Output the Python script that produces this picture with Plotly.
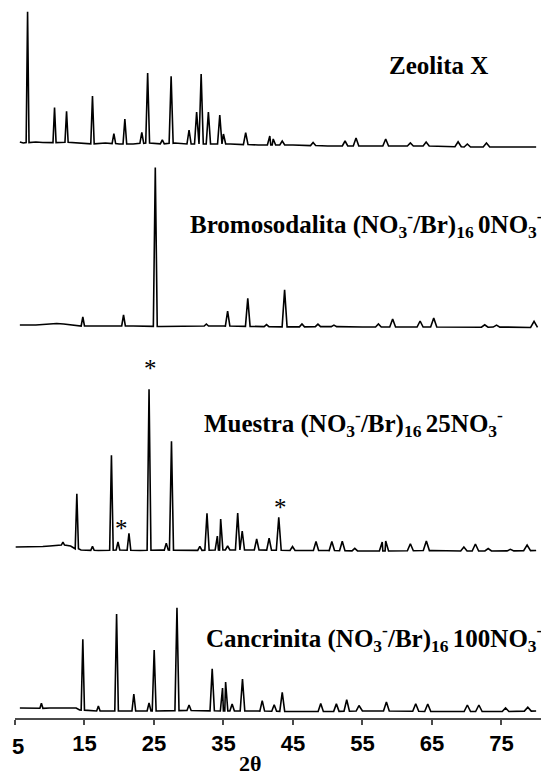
import numpy as np
import plotly.graph_objects as go

# ---------------- data (stacked intensity in a.u.) ----------------
tick_vals = [5, 15, 25, 35, 45, 55, 65, 75]
tick_text = ["", "15", "25", "35", "45", "55", "65", "75"]

# Zeolita X
zx_base_x = [5.7, 6.2, 8, 9, 10, 12, 14, 16, 18, 20, 22, 24, 26, 28, 30, 33, 36, 40, 45, 50, 55, 60, 65, 70, 75, 80]
zx_base_y = [576, 575, 576, 575.5, 575, 576, 575, 574, 575, 574, 574, 575, 574, 575, 574, 574, 574, 573, 573, 572, 572, 572, 572, 571, 571, 571]
zx_peak_x = [6.81, 10.69, 12.42, 16.15, 19.23, 20.81, 23.25, 24.09, 26.2, 27.47, 30.05, 31.14, 31.79, 32.83,
             34.47, 35.0, 38.2, 41.67, 42.16, 43.46, 47.9, 52.5, 54.08, 58.35, 61.9, 64.17, 68.77, 70.1, 72.85]
zx_peak_h = [131, 35, 31, 48, 10, 25, 11, 70, 4, 67, 14, 32, 70, 32, 29, 10, 12, 9, 6, 4, 3, 5, 8, 7, 3, 4, 5, 3, 4]

# Bromosodalita (NO3-/Br)16 0NO3-
bs_base_x = [5.7, 8, 10, 11, 12, 13, 14, 18, 22, 26, 30, 35, 40, 45, 50, 55, 60, 65, 70, 75, 80]
bs_base_y = [393, 393, 394, 394.5, 394, 393, 392, 392, 392, 391.5, 392, 392, 391.5, 391, 391.5, 391, 391, 391, 390.5, 391, 390.5]
bs_peak_x = [14.76, 20.62, 25.19, 32.54, 35.6, 38.5, 41.2, 43.8, 46.3, 48.6, 50.9, 57.3, 59.35, 63.3, 65.26, 72.6, 74.3, 79.7]
bs_peak_h = [9, 11, 159, 2, 15, 28, 2, 37, 3, 2.5, 1.5, 3, 8, 6, 9, 2.5, 2, 6]

# Muestra (NO3-/Br)16 25NO3-
mu_base_x = [5.1, 7, 9, 10, 11, 12, 13, 13.5, 14.5, 17, 20, 23, 26, 30, 35, 40, 45, 50, 55, 60, 65, 70, 75, 80]
mu_base_y = [171, 171, 171.5, 172, 172.5, 173, 172, 170, 168, 167.5, 168, 167.5, 168, 167.5, 168, 168, 167.5, 167.5, 167, 167, 167.5, 167, 167, 167.5]
mu_peak_x = [11.9, 13.9, 16.15, 18.88, 19.82, 21.4, 24.29, 26.77, 27.52, 31.6, 32.63, 34.12, 34.6, 35.6, 37.05, 37.7,
             39.78, 41.57, 42.96, 44.94, 48.32, 50.6, 52.1, 53.9, 57.85, 58.35, 61.9, 64.2, 69.6, 71.26, 73.1, 76.3, 78.7]
mu_peak_h = [3, 55, 4, 95, 8, 17, 161, 7, 109, 4, 37, 14, 31, 4, 37, 19, 11, 12, 33, 4, 9, 9, 9.5, 2.5, 9, 10, 7, 9.5, 4, 7, 2.5, 1.5, 5.5]
star_x = [24.57, 20.35, 43.16]
star_y = [350, 190, 211]

# Cancrinita (NO3-/Br)16 100NO3-
cn_base_x = [5.7, 8, 10, 12, 13.8, 14.3, 17, 20, 25, 30, 35, 40, 45, 50, 55, 60, 65, 70, 75, 80]
cn_base_y = [10, 9.5, 10, 10, 10, 8, 7, 7, 7, 7.5, 7, 7, 6.5, 6.5, 7, 7, 6.5, 6.5, 6.5, 7]
cn_peak_x = [8.8, 14.76, 17.0, 19.62, 22.1, 24.29, 25.03, 28.31, 30.05, 33.38, 34.87, 35.31, 36.25, 37.74, 40.58, 42.3,
             43.46, 49.0, 51.25, 52.74, 54.5, 58.45, 62.67, 64.4, 70.1, 71.76, 75.6, 78.8]
cn_peak_h = [5, 71, 5, 97, 17, 8, 61, 103, 5.5, 42, 23, 29, 7, 32, 10.5, 6.5, 19, 8, 7.5, 11.5, 5.5, 9, 7.5, 7.5, 6.5, 6.5, 3.5, 4]

labels = [
    "Zeolita X",
    "Bromosodalita (NO<sub>3</sub><sup>-</sup>/Br)<sub>16 </sub>0NO<sub>3</sub><sup>-</sup>",
    "Muestra (NO<sub>3</sub><sup>-</sup>/Br)<sub>16 </sub>25NO<sub>3</sub><sup>-</sup>",
    "Cancrinita (NO<sub>3</sub><sup>-</sup>/Br)<sub>16 </sub>100NO<sub>3</sub><sup>-</sup>",
]
label_x = [58.5, 29.9, 31.9, 32.2]
label_y = [653, 494, 295, 80]


def pattern(bx, by, px, ph):
    """Join baseline samples and peaks (each drawn as a narrow spike on the baseline)."""
    bx = np.asarray(bx, float)
    by = np.asarray(by, float)
    pts = []
    for x, y in zip(bx, by):
        if all(abs(x - p) > 0.45 for p in px):
            pts.append((x, y))
    for p, h in zip(px, ph):
        hw = 0.2 + 0.004 * (p - 5)
        foot = float(np.interp(p, bx, by))
        pts += [(p - hw, foot), (p, foot + h), (p + hw, foot)]
    pts.sort()
    return [q[0] for q in pts], [q[1] for q in pts]


fig = go.Figure()
for bx, by, px, ph in [
    (zx_base_x, zx_base_y, zx_peak_x, zx_peak_h),
    (bs_base_x, bs_base_y, bs_peak_x, bs_peak_h),
    (mu_base_x, mu_base_y, mu_peak_x, mu_peak_h),
    (cn_base_x, cn_base_y, cn_peak_x, cn_peak_h),
]:
    xs, ys = pattern(bx, by, px, ph)
    fig.add_trace(go.Scatter(x=xs, y=ys, mode="lines",
                             line=dict(color="black", width=1.6),
                             showlegend=False, hoverinfo="skip"))

serif = "Liberation Serif, Times New Roman, serif"
sans = "Liberation Sans, Arial, sans-serif"

annotations = []
for t, x, y in zip(labels, label_x, label_y):
    annotations.append(dict(x=x, y=y, xref="x", yref="y", text=t, showarrow=False,
                            xanchor="left", yanchor="middle",
                            font=dict(family=serif, size=25, color="black", weight="bold")))
for x, y in zip(star_x, star_y):
    annotations.append(dict(x=x, y=y, xref="x", yref="y", text="*", showarrow=False,
                            xanchor="center", yanchor="middle",
                            font=dict(family=serif, size=25, color="black")))
# first tick label sits a bit lower in the original; axis title below the ticks
annotations.append(dict(x=5.45, y=-0.040, xref="x", yref="paper", text="5", showarrow=False,
                        xanchor="center", yanchor="middle",
                        font=dict(family=sans, size=22, color="black", weight="bold")))
annotations.append(dict(x=38.8, y=-0.063, xref="x", yref="paper", text="2θ", showarrow=False,
                        xanchor="center", yanchor="middle",
                        font=dict(family=serif, size=22, color="black", weight="bold")))

fig.update_layout(
    width=541, height=771,
    margin=dict(l=15, r=0, t=0, b=53),
    paper_bgcolor="white", plot_bgcolor="white",
    annotations=annotations,
    xaxis=dict(range=[5, 80.7], showgrid=False, zeroline=False,
               showline=True, linecolor="#4a4a4a", linewidth=1.5,
               ticks="outside", ticklen=5, tickwidth=1.5, tickcolor="#4a4a4a",
               tickvals=tick_vals, ticktext=tick_text,
               tickfont=dict(family=sans, size=22, color="black", weight="bold")),
    yaxis=dict(range=[0, 718], visible=False),
)

fig.write_html("out.html")
